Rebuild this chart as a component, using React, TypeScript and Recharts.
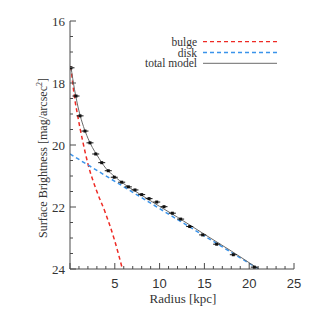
import { ComposedChart, Line, Scatter, XAxis, YAxis, Legend, Label } from 'recharts';

// measured profile points
const pointR = [0.11, 0.67, 1.12, 1.67, 2.23, 2.87, 3.54, 4.27, 4.94, 5.77, 6.51, 7.25, 8.0, 8.82, 9.68, 10.49, 11.42, 12.35, 13.36, 14.81, 16.37, 18.23, 20.57];
const pointMu = [17.51, 18.42, 19.06, 19.55, 19.93, 20.29, 20.57, 20.83, 21.04, 21.2, 21.35, 21.45, 21.6, 21.73, 21.84, 21.99, 22.2, 22.39, 22.63, 22.9, 23.2, 23.54, 23.94];

// model components
const bulgeR = [0.1, 0.45, 0.86, 1.4, 2.04, 3.0, 3.9, 5.0, 5.85];
const bulgeMu = [17.47, 18.35, 19.06, 19.85, 20.65, 21.5, 22.15, 23.1, 24.0];
const diskR = [0, 21.05];
const diskMu = [20.29, 24.0];
const totalR = [0.1, 0.5, 1, 1.5, 2, 2.5, 3, 4, 5, 6, 7, 8, 9, 10, 12, 15, 18, 21.05];
const totalMu = [17.47, 18.2, 18.9, 19.4, 19.78, 20.08, 20.32, 20.75, 21.02, 21.25, 21.44, 21.62, 21.8, 21.98, 22.33, 22.88, 23.42, 24.0];

const xTicks = [0, 1, 2, 3, 4, 5, 6, 7, 8, 9, 10, 11, 12, 13, 14, 15, 16, 17, 18, 19, 20, 21, 22, 23, 24, 25];
const xLabels = [5, 10, 15, 20, 25];
const yTicks = [16, 16.5, 17, 17.5, 18, 18.5, 19, 19.5, 20, 20.5, 21, 21.5, 22, 22.5, 23, 23.5, 24];
const yLabels = [16, 18, 20, 22, 24];

const legendNames = ['bulge', 'disk', 'total model'];

const RED = '#ee2a24';
const BLUE = '#3a93ea';
const GRAY = '#6a6a6a';
const FRAME = '#4a4a4a';
const INK = '#333';
const SERIF = '"Liberation Serif", "DejaVu Serif", serif';
const SANS = '"Liberation Sans", Arial, sans-serif';

const zip = (r: number[], mu: number[]) => r.map((v, i) => ({ r: v, mu: mu[i] }));
const points = zip(pointR, pointMu);
const bulge = zip(bulgeR, bulgeMu);
const disk = zip(diskR, diskMu);
const total = zip(totalR, totalMu);

const BottomTick = ({ x, y, payload }: any) => {
  const v = payload.value;
  const major = v % 5 === 0;
  return (
    <g>
      <line x1={x} x2={x} y1={y} y2={y - (major ? 6 : 3)} stroke={FRAME} />
      {xLabels.includes(v) && (
        <text x={x} y={y + 19} textAnchor="middle" fontSize={13} fontFamily={SANS} fill={INK}>{v}</text>
      )}
    </g>
  );
};

const TopTick = ({ x, y, payload }: any) => {
  const major = payload.value % 5 === 0;
  return <line x1={x} x2={x} y1={y} y2={y + (major ? 6 : 3)} stroke={FRAME} />;
};

const LeftTick = ({ x, y, payload }: any) => {
  const v = payload.value;
  const major = v % 2 === 0;
  return (
    <g>
      <line x1={x} x2={x + (major ? 6 : 3)} y1={y} y2={y} stroke={FRAME} />
      {yLabels.includes(v) && (
        <text x={x - 5} y={y} dy="0.35em" textAnchor="end" fontSize={13} fontFamily={SERIF} fill={INK}>{v}</text>
      )}
    </g>
  );
};

const RightTick = ({ x, y, payload }: any) => {
  const major = payload.value % 2 === 0;
  return <line x1={x} x2={x - (major ? 6 : 3)} y1={y} y2={y} stroke={FRAME} />;
};

const PointShape = ({ cx, cy }: any) => (
  <g>
    <line x1={cx - 3.5} x2={cx + 3.5} y1={cy} y2={cy} stroke="#111" strokeWidth={1} />
    <rect x={cx - 1.5} y={cy - 1.5} width={3} height={3} fill="#111" />
  </g>
);

const renderLegend = () => {
  const strokes = [RED, BLUE, '#888'];
  const dashes = ['4 3', '4 3', undefined];
  return (
    <svg width={200} height={40}>
      {legendNames.map((name, i) => (
        <g key={name}>
          <text x={97} y={7.7 + i * 10.8} dy="0.35em" textAnchor="end" fontSize={11.5} fontFamily={SERIF} fill={INK}>{name}</text>
          <line x1={103} x2={177} y1={7.7 + i * 10.8} y2={7.7 + i * 10.8} stroke={strokes[i]} strokeWidth={1.3} strokeDasharray={dashes[i]} />
        </g>
      ))}
    </svg>
  );
};

export default function App() {
  return (
    <div style={{ position: 'absolute', left: 0, top: 0, width: 315, height: 315, background: '#fff' }}>
      <ComposedChart width={315} height={315} margin={{ top: 21, right: 21, bottom: 16, left: 30 }}>
        <XAxis
          xAxisId="b"
          dataKey="r"
          type="number"
          domain={[0, 25]}
          ticks={xTicks}
          interval={0}
          tickSize={0}
          tickMargin={0}
          tick={<BottomTick />}
          tickLine={false}
          axisLine={{ stroke: FRAME }}
          height={30}
          allowDataOverflow
        >
          <Label
            content={() => (
              <text x={183} y={298} dy="0.35em" textAnchor="middle" fontSize={13} fontFamily={SERIF} fill={INK}>Radius [kpc]</text>
            )}
          />
        </XAxis>
        <XAxis
          xAxisId="t"
          orientation="top"
          dataKey="r"
          type="number"
          domain={[0, 25]}
          ticks={xTicks}
          interval={0}
          tickSize={0}
          tickMargin={0}
          tick={<TopTick />}
          tickLine={false}
          axisLine={{ stroke: FRAME }}
          height={0}
        />
        <YAxis
          yAxisId="l"
          type="number"
          domain={[16, 24]}
          reversed
          ticks={yTicks}
          interval={0}
          tickSize={0}
          tickMargin={0}
          tick={<LeftTick />}
          tickLine={false}
          axisLine={{ stroke: FRAME }}
          width={40}
          allowDataOverflow
        >
          <Label
            content={() => (
              <text transform="rotate(-90, 43, 158)" x={43} y={158} dy="0.35em" textAnchor="middle" fontSize={12} fontFamily={SERIF} fill={INK}>
                Surface Brightness [mag/arcsec<tspan dy={-5} fontSize={8}>2</tspan><tspan dy={5}>]</tspan>
              </text>
            )}
          />
        </YAxis>
        <YAxis
          yAxisId="r"
          orientation="right"
          type="number"
          domain={[16, 24]}
          reversed
          ticks={yTicks}
          interval={0}
          tickSize={0}
          tickMargin={0}
          tick={<RightTick />}
          tickLine={false}
          axisLine={{ stroke: FRAME }}
          width={0}
        />
        <Legend verticalAlign="middle" align="center" layout="horizontal" content={renderLegend} wrapperStyle={{ left: 100, top: 34, width: 200, height: 40 }} />
        <Line xAxisId="b" yAxisId="l" data={bulge} dataKey="mu" name="bulge" type="monotone" stroke={RED} strokeWidth={1.5} strokeDasharray="4 3" dot={false} isAnimationActive={false} />
        <Line xAxisId="b" yAxisId="l" data={disk} dataKey="mu" name="disk" type="linear" stroke={BLUE} strokeWidth={1.5} strokeDasharray="4 3" dot={false} isAnimationActive={false} />
        <Line xAxisId="b" yAxisId="l" data={total} dataKey="mu" name="total model" type="monotone" stroke={GRAY} strokeWidth={1} dot={false} isAnimationActive={false} />
        <Scatter xAxisId="b" yAxisId="l" data={points} dataKey="mu" legendType="none" shape={<PointShape />} isAnimationActive={false} />
      </ComposedChart>
    </div>
  );
}
